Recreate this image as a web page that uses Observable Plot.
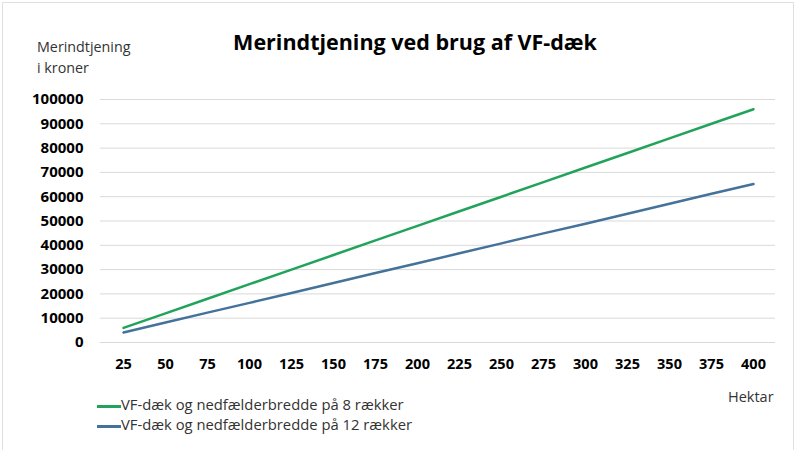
<!DOCTYPE html>
<html><head><meta charset="utf-8">
<script src="https://cdn.jsdelivr.net/npm/d3@7"></script>
<script src="https://cdn.jsdelivr.net/npm/@observablehq/plot@0.6"></script>
<style>
body{margin:0;background:#fff;}
#wrap{position:relative;width:800px;height:450px;font-family:"Open Sans",sans-serif;color:#000;}
.t{position:absolute;white-space:nowrap;}
</style></head><body>
<div id="wrap">
<div style="position:absolute;left:2px;top:2px;width:792px;height:452px;border:1px solid #e0e0e0;box-sizing:border-box;"></div>
<div class="t" style="left:0;width:830px;top:27px;text-align:center;font-size:21.5px;font-weight:bold;">Merindtjening ved brug af VF-dæk</div>
<div class="t" style="left:37px;top:36px;font-size:14.3px;line-height:21px;color:#333;">Merindtjening<br>i kroner</div>
<div class="t" style="left:728px;top:387px;font-size:14.5px;color:#333;">Hektar</div>
<div id="legend" class="t" style="left:97px;top:394px;font-size:14.8px;line-height:20px;color:#333;"></div>
<div id="chart" style="position:absolute;left:0;top:0;"></div>
</div>
<script>
const hektar = [25,50,75,100,125,150,175,200,225,250,275,300,325,350,375,400];
const series8 = [6000,12000,18000,24000,30000,36000,42000,48000,54000,60000,66000,72000,78000,84000,90000,96000];
const series12 = [4100,8200,12300,16300,20400,24500,28600,32600,36700,40800,44900,48900,53000,57100,61200,65200];
const seriesNames = ["VF-dæk og nedfælderbredde på 8 rækker","VF-dæk og nedfælderbredde på 12 rækker"];
const seriesColors = ["#21a35b","#45729a"];
const yTicks = [0,10000,20000,30000,40000,50000,60000,70000,80000,90000,100000];

const data = [];
hektar.forEach((h,i)=>{
  data.push({h:String(h), v:series8[i], s:seriesNames[0]});
  data.push({h:String(h), v:series12[i], s:seriesNames[1]});
});

const plot = Plot.plot({
  width:800, height:450,
  marginTop:99, marginBottom:108, marginLeft:100, marginRight:25,
  style:{fontFamily:'"Open Sans",sans-serif', fontSize:"15px", fontWeight:"bold", background:"transparent", color:"#000"},
  x:{type:"point", domain:hektar.map(String), padding:0.5, label:null},
  y:{domain:[0,100000], label:null},
  color:{domain:seriesNames, range:seriesColors},
  marks:[
    Plot.gridY(yTicks,{stroke:"#d9d9d9", strokeOpacity:1, strokeWidth:1}),
    Plot.axisY(yTicks,{tickSize:0, tickPadding:17, tickFormat:d=>String(d), label:null, fontWeight:"bold"}),
    Plot.axisX({tickSize:0, tickPadding:16, label:null, fontWeight:"bold", fontSize:14.5}),
    Plot.line(data,{x:"h", y:"v", z:"s", stroke:"s", strokeWidth:2.5})
  ]
});
document.getElementById("chart").appendChild(plot);

const leg = document.getElementById("legend");
seriesNames.forEach((n,i)=>{
  const row = document.createElement("div");
  row.innerHTML = `<span style="display:inline-block;width:24px;height:3px;background:${seriesColors[i]};vertical-align:middle;"></span>${n}`;
  leg.appendChild(row);
});
</script>
</body></html>
